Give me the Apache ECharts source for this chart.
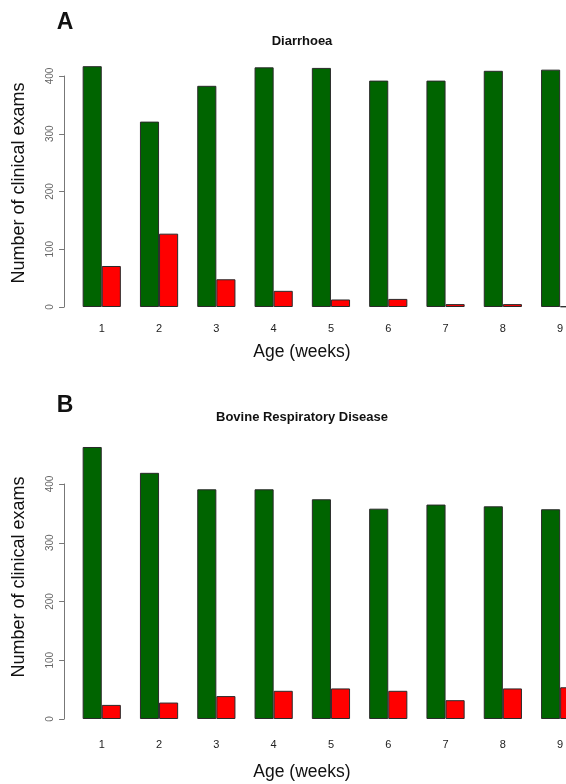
<!DOCTYPE html>
<html>
<head>
<meta charset="utf-8">
<script src="https://cdn.jsdelivr.net/npm/echarts@6/dist/echarts.min.js"></script>
<style>
html,body{margin:0;padding:0;background:#fff;}
#c{width:566px;height:784px;}
</style>
</head>
<body>
<div id="c"></div>
<script>
const weeks = ['1','2','3','4','5','6','7','8','9'];
const yTicks = [0, 100, 200, 300, 400];
const diarrhoeaGreen = [417, 321, 383, 415, 414, 392, 392, 409, 411];
const diarrhoeaRed = [71, 127, 48, 28, 13, 14, 5, 5, 1];
const brdGreen = [463, 419, 391, 391, 374, 358, 365, 362, 357];
const brdRed = [24, 28, 39, 48, 52, 48, 32, 52, 54];

const FONT = 'Liberation Sans, Arial, sans-serif';
const chart = echarts.init(document.getElementById('c'), null, {renderer: 'canvas'});

const gridLeft = 73.1, gridW = 515.7, barW = 19.1;

function xAxis(idx, margin) {
  return {
    type: 'category', gridIndex: idx, data: weeks,
    axisLine: {show: false}, axisTick: {show: false},
    axisLabel: {color: '#222', fontSize: 11, fontFamily: FONT, margin: margin}
  };
}
function yAxis(idx) {
  return {
    type: 'value', gridIndex: idx, min: yTicks[0], max: yTicks[yTicks.length - 1], interval: 100,
    offset: 9,
    splitLine: {show: false},
    axisLine: {show: true, lineStyle: {color: '#777', width: 1}},
    axisTick: {show: true, length: 5, lineStyle: {color: '#777'}},
    axisLabel: {color: '#666', fontSize: 10, fontFamily: FONT, rotate: 90, margin: 9}
  };
}
function bar(idx, data, color) {
  return {
    type: 'bar', xAxisIndex: idx, yAxisIndex: idx, data: data,
    barWidth: barW, barGap: '0%', clip: false,
    itemStyle: {color: color, borderColor: '#2a2a2a', borderWidth: 1},
    silent: true, animation: false
  };
}
function txt(x, y, s, size, bold, rot) {
  return {
    type: 'text', x: x, y: y, rotation: rot || 0,
    style: {text: s, fill: '#111', font: (bold ? 'bold ' : '') + size + 'px ' + FONT,
            textAlign: 'center', textVerticalAlign: 'middle'}
  };
}

chart.setOption({
  animation: false,
  grid: [
    {left: gridLeft, top: 76, width: gridW, height: 231, containLabel: false, outerBoundsMode: 'none'},
    {left: gridLeft, top: 484, width: gridW, height: 235, containLabel: false, outerBoundsMode: 'none'}
  ],
  xAxis: [xAxis(0, 16), xAxis(1, 20)],
  yAxis: [yAxis(0), yAxis(1)],
  series: [
    bar(0, diarrhoeaGreen, '#006400'),
    bar(0, diarrhoeaRed, '#ff0000'),
    bar(1, brdGreen, '#006400'),
    bar(1, brdRed, '#ff0000')
  ],
  graphic: [
    txt(65, 23, 'A', 23, true),
    txt(302, 41, 'Diarrhoea', 13, true),
    txt(19, 183, 'Number of clinical exams', 18, false, Math.PI / 2),
    txt(302, 352, 'Age (weeks)', 17.5, false),
    txt(65, 406, 'B', 23, true),
    txt(302, 417, 'Bovine Respiratory Disease', 13, true),
    txt(19, 577, 'Number of clinical exams', 18, false, Math.PI / 2),
    txt(302, 772, 'Age (weeks)', 17.5, false)
  ]
});
</script>
</body>
</html>
